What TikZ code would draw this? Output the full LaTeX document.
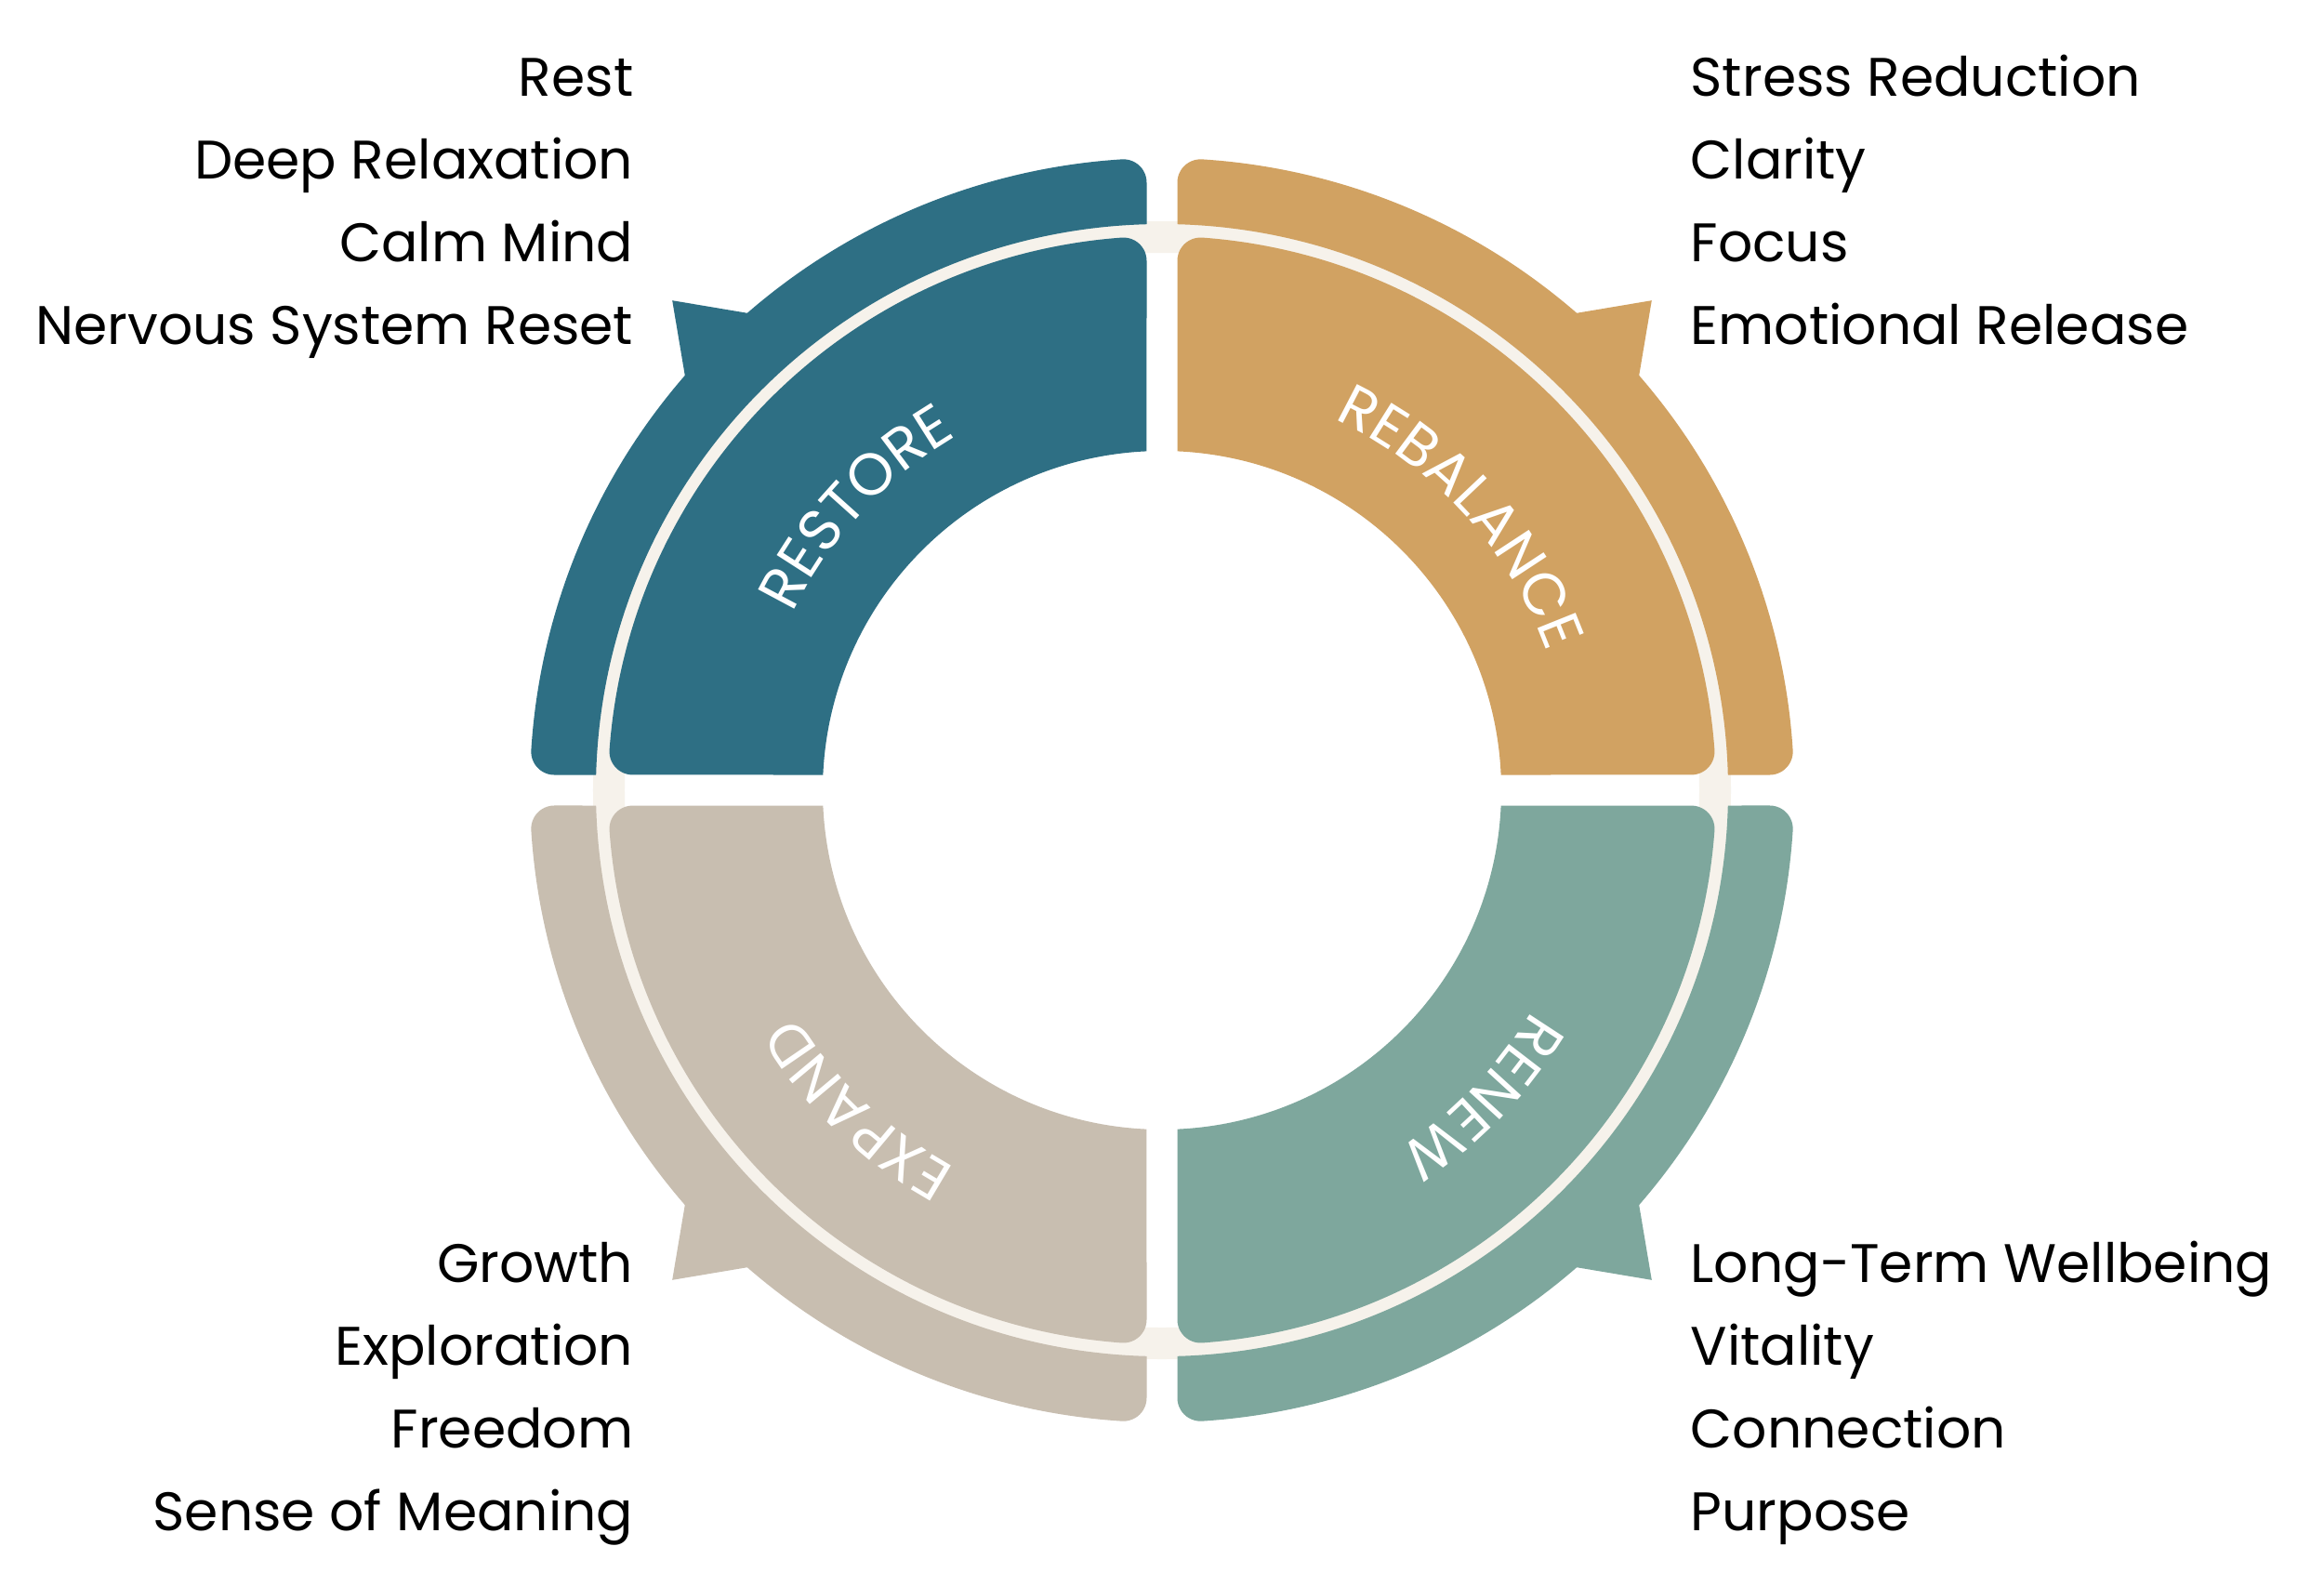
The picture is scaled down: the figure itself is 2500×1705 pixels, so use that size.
\documentclass[tikz,border=0pt]{standalone}
\usepackage{fontspec}
\setmainfont{Poppins}
\newfontfamily\labelfont[LetterSpace=7]{Poppins}
\usepackage{tikz}
\usetikzlibrary{decorations.text}

\definecolor{restorecol}{HTML}{2E6F84}
\definecolor{rebalancecol}{HTML}{D1A262}
\definecolor{renewcol}{HTML}{7EA79D}
\definecolor{expandcol}{HTML}{C8BEB0}
\definecolor{creamcol}{HTML}{F6F2EB}

% top left quarter: outer band with its spike, then the inner sector
\newcommand{\quarter}[1]{%
  \fill[#1] (-16.5,653.68) arc[start angle=0, end angle=93.63, radius=25]
    arc[start angle=93.63, end angle=131, radius=680] -- (135:745) -- (139:680)
    arc[start angle=139, end angle=176.37, radius=680]
    arc[start angle=176.37, end angle=270, radius=25] -- (-608.78,16.5)
    arc[start angle=178.45, end angle=91.55, radius=609] -- cycle;
  \fill[#1] (-16.5,569.49) arc[start angle=0, end angle=94.17, radius=25]
    arc[start angle=94.17, end angle=175.83, radius=596]
    arc[start angle=175.83, end angle=270, radius=25] -- (-364.63,16.5)
    arc[start angle=177.41, end angle=92.59, radius=365] -- cycle;
}

\begin{document}
\begin{tikzpicture}[x=0.01cm, y=0.01cm,
    listtext/.style={font=\fontsize{16.6}{20}\selectfont, text=black, inner sep=0pt},
    ringlabel/.style={decorate, decoration={text along path, text align=center,
        text={|\labelfont\fontsize{18}{20}\selectfont\color{white}|#1}}}
]
    \fill[white] (-1250,-855) rectangle (1250,850);
    \useasboundingbox (-1250,-855) rectangle (1250,850);

    \fill[creamcol, even odd rule] (0,0) circle[radius=612] circle[radius=578];

    \quarter{restorecol}
    \begin{scope}[xscale=-1] \quarter{rebalancecol} \end{scope}
    \begin{scope}[scale=-1] \quarter{renewcol} \end{scope}
    \begin{scope}[yscale=-1] \quarter{expandcol} \end{scope}

    % ring labels, all read clockwise
    \path[ringlabel=RESTORE] (182.3:440) arc[start angle=182.3, end angle=92.3, radius=440];
    \path[ringlabel=REBALANCE] (87.4:440) arc[start angle=87.4, end angle=-2.6, radius=440];
    \path[ringlabel=RENEW] (1.25:463) arc[start angle=1.25, end angle=-88.75, radius=463];
    \path[ringlabel=EXPAND] (271.4:463) arc[start angle=271.4, end angle=181.4, radius=463];

    % lists
    \foreach \txt [count=\i] in {Rest, Deep Relaxation, Calm Mind, Nervous System Reset}
        \node[listtext, anchor=base east] (restore\i) at (-568, 836-89*\i) {\txt};
    \foreach \txt [count=\i] in {Stress Reduction, Clarity, Focus, Emotional Release}
        \node[listtext, anchor=base west] (rebalance\i) at (568, 836-89*\i) {\txt};
    \foreach \txt [count=\i] in {Long-Term Wellbeing, Vitality, Connection, Purpose}
        \node[listtext, anchor=base west] (renew\i) at (568, -440-89*\i) {\txt};
    \foreach \txt [count=\i] in {Growth, Exploration, Freedom, Sense of Meaning}
        \node[listtext, anchor=base east] (expand\i) at (-568, -440-89*\i) {\txt};
\end{tikzpicture}
\end{document}
